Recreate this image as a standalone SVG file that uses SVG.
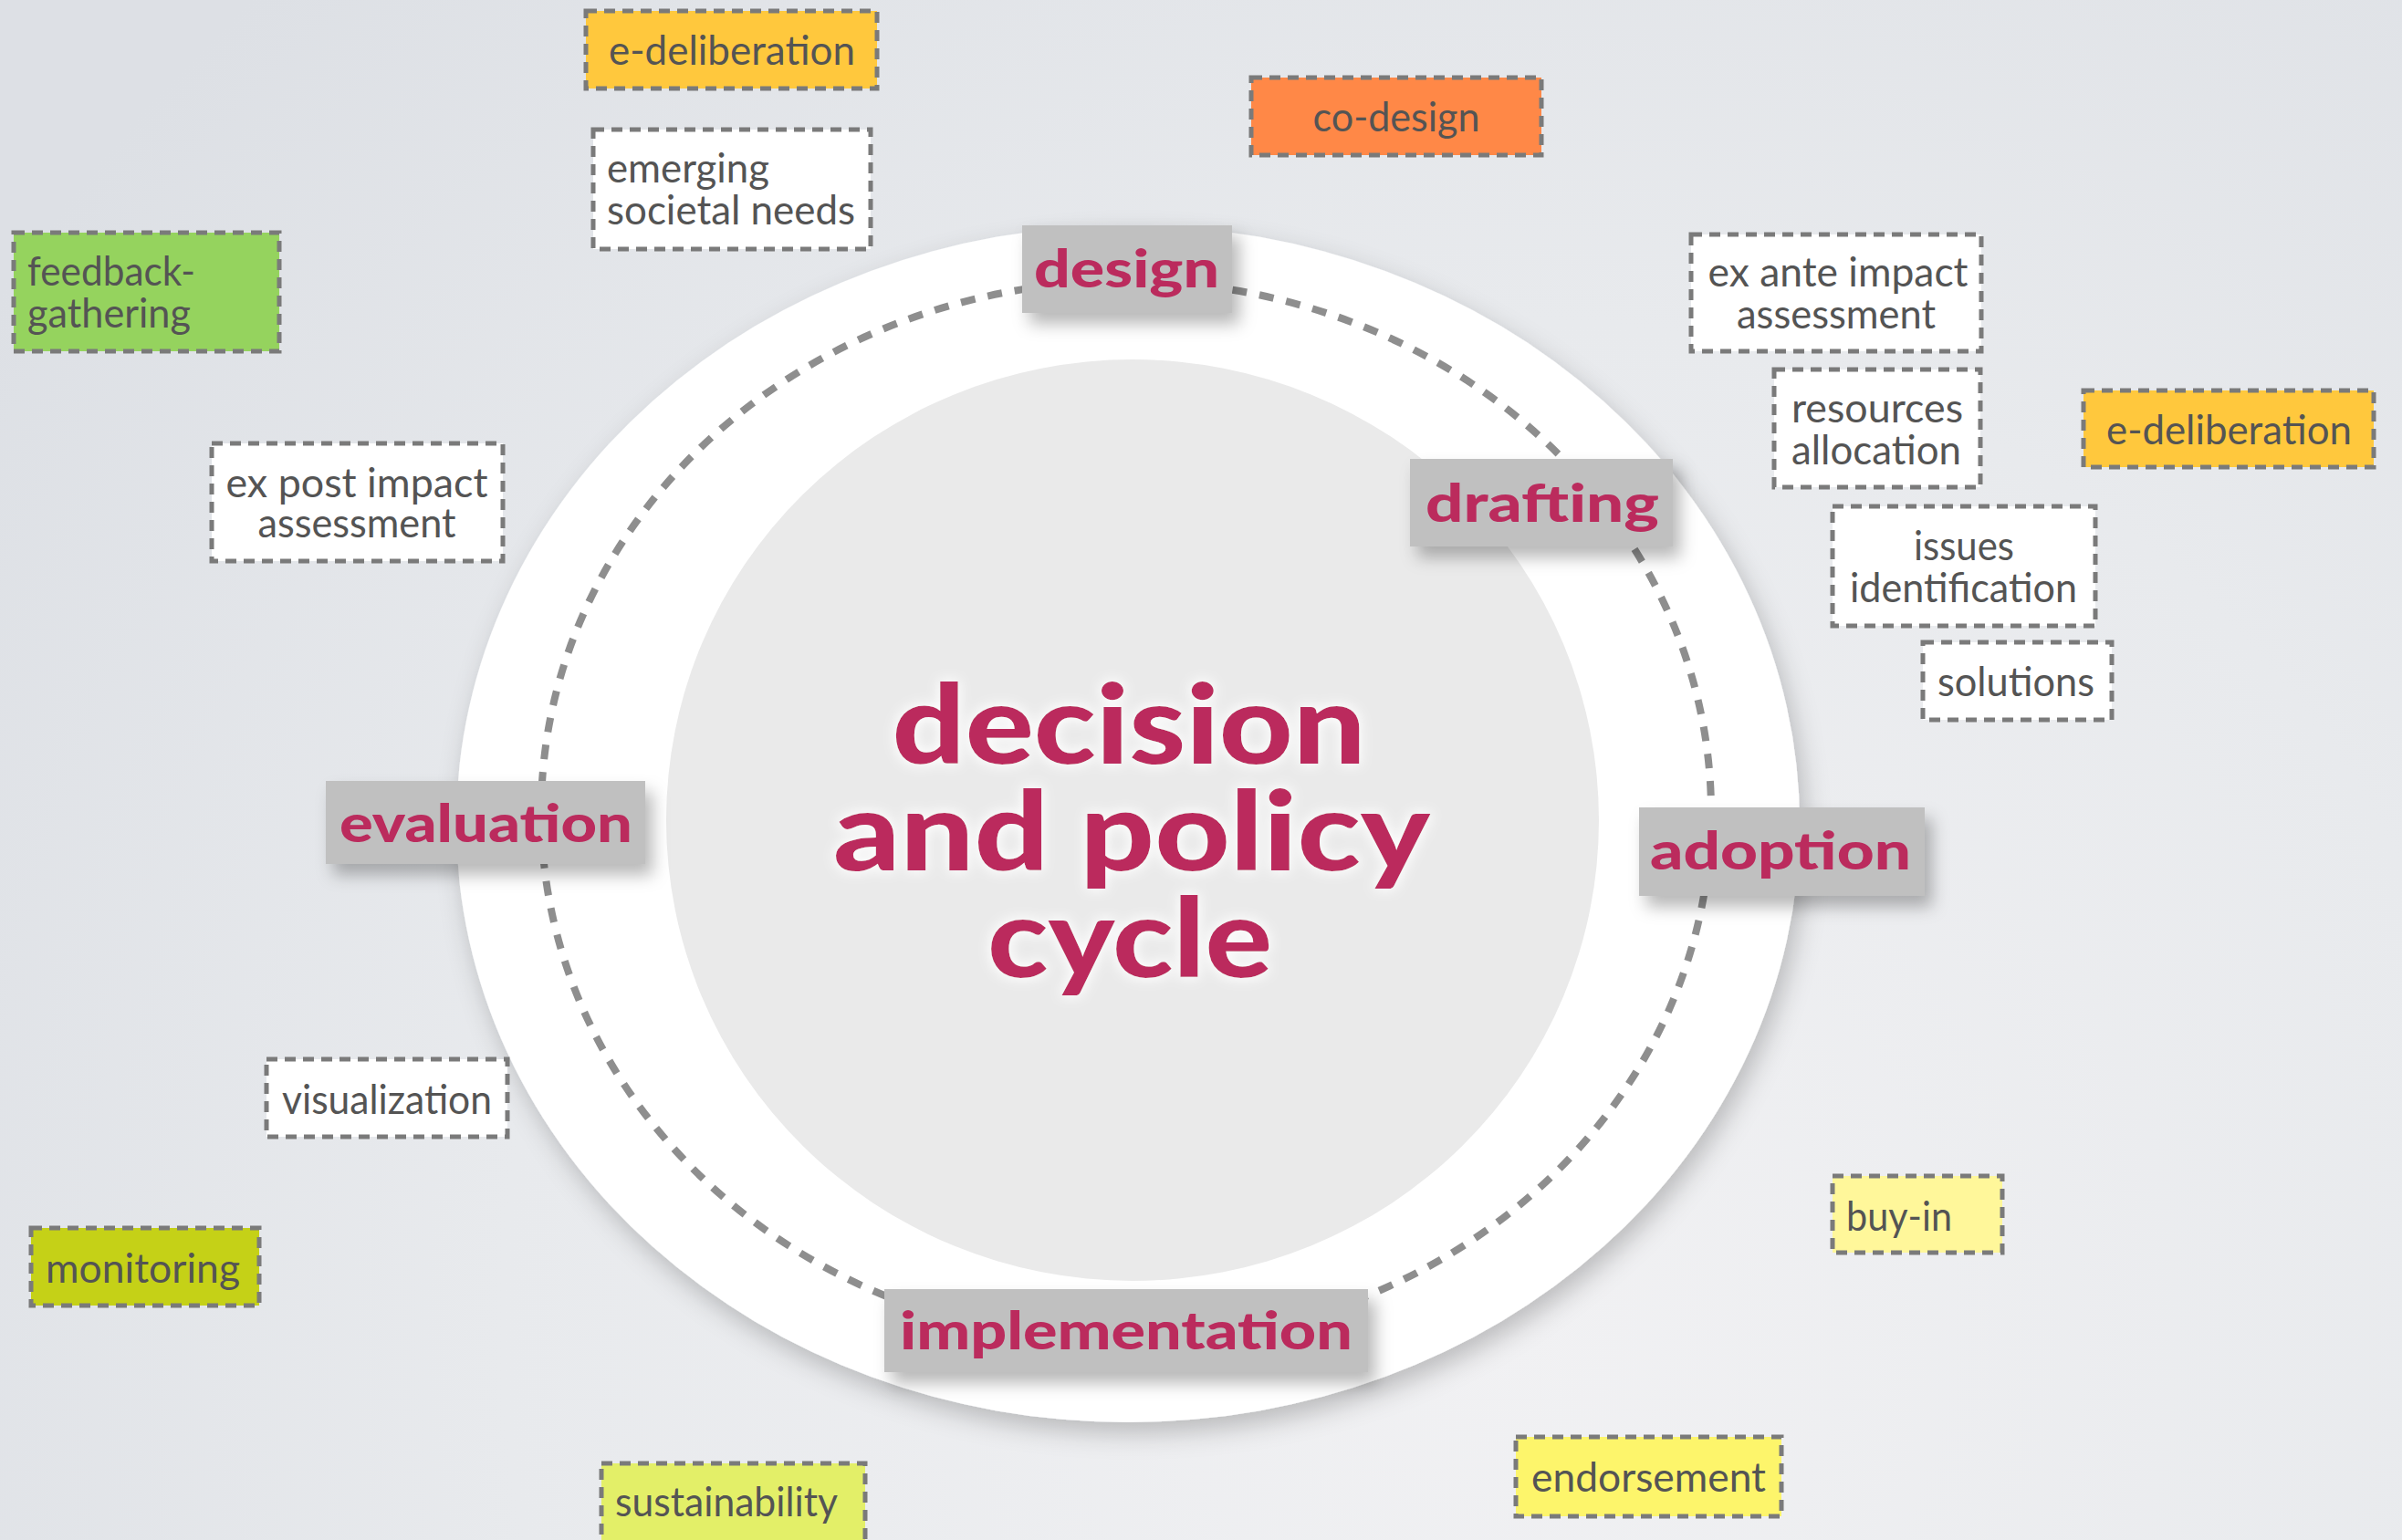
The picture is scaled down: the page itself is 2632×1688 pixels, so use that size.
<svg xmlns="http://www.w3.org/2000/svg" width="2632" height="1688" viewBox="0 0 2632 1688">
<defs>
  <radialGradient id="bg" cx="1650" cy="1450" r="2000" gradientUnits="userSpaceOnUse">
    <stop offset="0" stop-color="#f1f1f3"/>
    <stop offset="0.55" stop-color="#e8eaed"/>
    <stop offset="1" stop-color="#dde0e5"/>
  </radialGradient>
  <filter id="ringShadow" x="-10%" y="-10%" width="125%" height="125%">
    <feDropShadow dx="6" dy="12" stdDeviation="14" flood-color="#000" flood-opacity="0.22"/>
  </filter>
  <filter id="boxShadow" x="-20%" y="-30%" width="150%" height="180%">
    <feDropShadow dx="8" dy="12" stdDeviation="9" flood-color="#000" flood-opacity="0.28"/>
  </filter>
  <filter id="glow" x="-10%" y="-30%" width="120%" height="160%">
    <feMorphology in="SourceAlpha" operator="dilate" radius="2" result="d"/>
    <feGaussianBlur in="d" stdDeviation="7" result="b"/>
    <feFlood flood-color="#ffffff" flood-opacity="0.95"/>
    <feComposite in2="b" operator="in" result="g"/>
    <feMerge><feMergeNode in="g"/><feMergeNode in="SourceGraphic"/></feMerge>
  </filter>
</defs>
<style>
  .box { stroke: #7a7a7a; stroke-width: 5; stroke-dasharray: 12 8; }
  .t { font-family: Lato, "Liberation Sans", sans-serif; font-size: 44px; fill: #545454; }
  .lbox { fill: #c0c0c0; }
  .lt { font-family: Lato, "Liberation Sans", sans-serif; font-size: 58px; font-weight: 900; fill: #bb2b5d; text-anchor: middle; }
  .ct { font-family: Lato, "Liberation Sans", sans-serif; font-size: 120px; font-weight: 900; fill: #bb2b5d; text-anchor: middle; }
  .mid { text-anchor: middle; }
</style>

<rect x="0" y="0" width="2632" height="1688" fill="url(#bg)"/>

<g id="ring">
  <ellipse cx="1236" cy="903" rx="736" ry="656" fill="#ffffff" filter="url(#ringShadow)"/>
  <ellipse cx="1241" cy="899" rx="511" ry="505" fill="#eaeaea"/>
</g>

<g id="connectors">
  <ellipse cx="1234" cy="890" rx="641" ry="582" fill="none" stroke="#8e8e8e" stroke-width="8" stroke-dasharray="16 14"/>
</g>

<g id="center-title" filter="url(#glow)">
  <text class="ct" x="1237" y="837" textLength="519" lengthAdjust="spacingAndGlyphs">decision</text>
  <text class="ct" x="1240" y="954" textLength="654" lengthAdjust="spacingAndGlyphs">and policy</text>
  <text class="ct" x="1238" y="1071" textLength="312" lengthAdjust="spacingAndGlyphs">cycle</text>
</g>

<g id="stage-design">
  <rect class="lbox" x="1120" y="247" width="230" height="96" filter="url(#boxShadow)"/>
  <text class="lt" x="1234.5" y="315" textLength="203" lengthAdjust="spacingAndGlyphs">design</text>
</g>
<g id="stage-drafting">
  <rect class="lbox" x="1545" y="503" width="288" height="96" filter="url(#boxShadow)"/>
  <text class="lt" x="1690" y="572" textLength="256" lengthAdjust="spacingAndGlyphs">drafting</text>
</g>
<g id="stage-adoption">
  <rect class="lbox" x="1796" y="885" width="313" height="97" filter="url(#boxShadow)"/>
  <text class="lt" x="1951" y="953" textLength="286" lengthAdjust="spacingAndGlyphs">adoption</text>
</g>
<g id="stage-evaluation">
  <rect class="lbox" x="357" y="856" width="350" height="91" filter="url(#boxShadow)"/>
  <text class="lt" x="532.5" y="923" textLength="321" lengthAdjust="spacingAndGlyphs">evaluation</text>
</g>
<g id="stage-implementation">
  <rect class="lbox" x="969" y="1413" width="530" height="91" filter="url(#boxShadow)"/>
  <text class="lt" x="1234" y="1479" textLength="496" lengthAdjust="spacingAndGlyphs">implementation</text>
</g>

<g id="node-e-deliberation-top">
  <rect class="box" x="642" y="12" width="319" height="85" fill="#ffc83d"/>
  <text class="t mid" x="802" y="71" textLength="270" lengthAdjust="spacingAndGlyphs">e-deliberation</text>
</g>
<g id="node-emerging-societal-needs">
  <rect class="box" x="650" y="142" width="304" height="131" fill="#ffffff"/>
  <text class="t" x="665" y="200" textLength="178" lengthAdjust="spacingAndGlyphs">emerging</text>
  <text class="t" x="665" y="246" textLength="272" lengthAdjust="spacingAndGlyphs">societal needs</text>
</g>
<g id="node-co-design">
  <rect class="box" x="1371" y="85" width="318" height="85" fill="#ff8847"/>
  <text class="t mid" x="1530" y="144" textLength="183" lengthAdjust="spacingAndGlyphs">co-design</text>
</g>
<g id="node-feedback-gathering">
  <rect class="box" x="15" y="255" width="291" height="130" fill="#95d35e"/>
  <text class="t" x="30" y="313" textLength="184" lengthAdjust="spacingAndGlyphs">feedback-</text>
  <text class="t" x="30" y="359" textLength="179" lengthAdjust="spacingAndGlyphs">gathering</text>
</g>
<g id="node-ex-post-impact-assessment">
  <rect class="box" x="232" y="486" width="319" height="129" fill="#ffffff"/>
  <text class="t mid" x="391" y="545" textLength="287" lengthAdjust="spacingAndGlyphs">ex post impact</text>
  <text class="t mid" x="391" y="589" textLength="217" lengthAdjust="spacingAndGlyphs">assessment</text>
</g>
<g id="node-ex-ante-impact-assessment">
  <rect class="box" x="1853" y="257" width="318" height="128" fill="#ffffff"/>
  <text class="t mid" x="2014" y="314" textLength="285" lengthAdjust="spacingAndGlyphs">ex ante impact</text>
  <text class="t mid" x="2012" y="360" textLength="218" lengthAdjust="spacingAndGlyphs">assessment</text>
</g>
<g id="node-resources-allocation">
  <rect class="box" x="1944" y="405" width="226" height="129" fill="#ffffff"/>
  <text class="t" x="1963" y="463" textLength="188" lengthAdjust="spacingAndGlyphs">resources</text>
  <text class="t" x="1963" y="509" textLength="186" lengthAdjust="spacingAndGlyphs">allocation</text>
</g>
<g id="node-e-deliberation-right">
  <rect class="box" x="2283" y="428" width="318" height="84" fill="#ffc83d"/>
  <text class="t mid" x="2442.5" y="487" textLength="269" lengthAdjust="spacingAndGlyphs">e-deliberation</text>
</g>
<g id="node-issues-identification">
  <rect class="box" x="2008" y="555" width="288" height="131" fill="#ffffff"/>
  <text class="t mid" x="2152" y="614" textLength="110" lengthAdjust="spacingAndGlyphs">issues</text>
  <text class="t mid" x="2151.5" y="660" textLength="249" lengthAdjust="spacingAndGlyphs">identification</text>
</g>
<g id="node-solutions">
  <rect class="box" x="2107" y="704" width="207" height="85" fill="#ffffff"/>
  <text class="t mid" x="2209" y="763" textLength="172" lengthAdjust="spacingAndGlyphs">solutions</text>
</g>
<g id="node-visualization">
  <rect class="box" x="292" y="1161" width="264" height="85" fill="#ffffff"/>
  <text class="t mid" x="424" y="1221" textLength="230" lengthAdjust="spacingAndGlyphs">visualization</text>
</g>
<g id="node-monitoring">
  <rect class="box" x="34" y="1346" width="250" height="85" fill="#c5d117"/>
  <text class="t mid" x="156.5" y="1406" textLength="213" lengthAdjust="spacingAndGlyphs">monitoring</text>
</g>
<g id="node-buy-in">
  <rect class="box" x="2008" y="1289" width="186" height="84" fill="#fff79a"/>
  <text class="t" x="2023" y="1349" textLength="116" lengthAdjust="spacingAndGlyphs">buy-in</text>
</g>
<g id="node-endorsement">
  <rect class="box" x="1661" y="1575" width="291" height="87" fill="#fdf56b"/>
  <text class="t mid" x="1806.5" y="1635" textLength="257" lengthAdjust="spacingAndGlyphs">endorsement</text>
</g>
<g id="node-sustainability">
  <rect class="box" x="659" y="1604" width="289" height="90" fill="#e3ef68"/>
  <text class="t mid" x="796" y="1662" textLength="244" lengthAdjust="spacingAndGlyphs">sustainability</text>
</g>
</svg>
